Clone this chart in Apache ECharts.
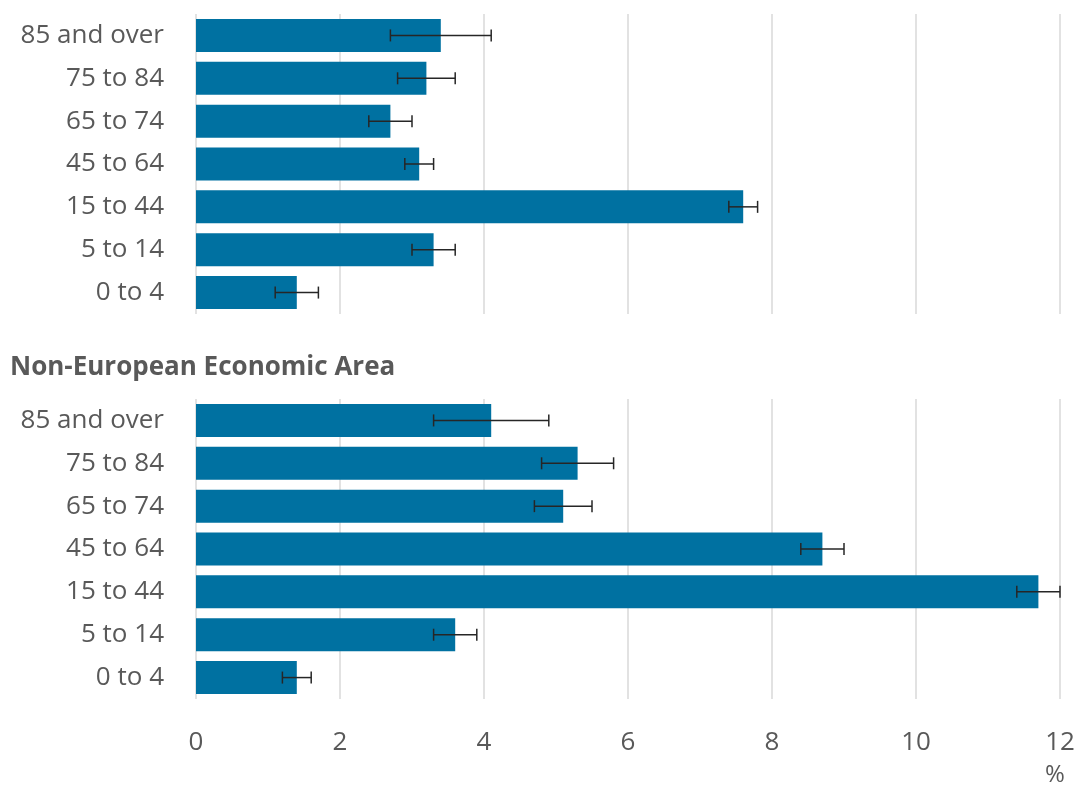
<!DOCTYPE html>
<html lang="en">
<head>
    <meta charset="UTF-8">
    <title>Age groups</title>
    <script src="https://cdn.jsdelivr.net/npm/echarts@6/dist/echarts.min.js"></script>
    <style>
        html, body { margin: 0; padding: 0; background: #fff; }
        #chart { width: 1078px; height: 789px; }
    </style>
</head>
<body>
    <div id="chart"></div>
    <script>
        // data
        var ageGroups = ['85 and over', '75 to 84', '65 to 74', '45 to 64', '15 to 44', '5 to 14', '0 to 4'];
        var xTicks = [0, 2, 4, 6, 8, 10, 12];

        var eeaValues = [3.4, 3.2, 2.7, 3.1, 7.6, 3.3, 1.4];
        var eeaLow = [2.7, 2.8, 2.4, 2.9, 7.4, 3.0, 1.1];
        var eeaHigh = [4.1, 3.6, 3.0, 3.3, 7.8, 3.6, 1.7];

        var nonEeaValues = [4.1, 5.3, 5.1, 8.7, 11.7, 3.6, 1.4];
        var nonEeaLow = [3.3, 4.8, 4.7, 8.4, 11.4, 3.3, 1.2];
        var nonEeaHigh = [4.9, 5.8, 5.5, 9.0, 12.0, 3.9, 1.6];

        var barColor = '#0071a1';
        var textColor = '#595959';
        var font = 'Open Sans';

        function errData(low, high) {
            var out = [];
            for (var i = 0; i < low.length; i++) {
                out.push([i, low[i], high[i]]);
            }
            return out;
        }

        function renderError(params, api) {
            var cat = api.value(0);
            var p1 = api.coord([api.value(1), cat]);
            var p2 = api.coord([api.value(2), cat]);
            var cap = 6;
            var style = { stroke: '#262626', lineWidth: 1.5 };
            return {
                type: 'group',
                children: [
                    { type: 'line', shape: { x1: p1[0], y1: p1[1], x2: p2[0], y2: p2[1] }, style: style },
                    { type: 'line', shape: { x1: p1[0], y1: p1[1] - cap, x2: p1[0], y2: p1[1] + cap }, style: style },
                    { type: 'line', shape: { x1: p2[0], y1: p2[1] - cap, x2: p2[0], y2: p2[1] + cap }, style: style }
                ]
            };
        }

        function makeX(idx, showLabels) {
            return {
                type: 'value',
                gridIndex: idx,
                min: xTicks[0],
                max: xTicks[xTicks.length - 1],
                interval: 2,
                axisLine: { show: false },
                axisTick: { show: false },
                splitLine: { lineStyle: { color: '#d9d9d9', width: 1.5 } },
                axisLabel: {
                    show: showLabels,
                    color: textColor,
                    fontFamily: font,
                    fontSize: 26,
                    margin: 31
                }
            };
        }

        function makeY(idx) {
            return {
                type: 'category',
                gridIndex: idx,
                data: ageGroups,
                inverse: true,
                axisLine: { show: false },
                axisTick: { show: false },
                axisLabel: {
                    color: textColor,
                    fontFamily: font,
                    fontSize: 26,
                    margin: 32
                }
            };
        }

        var myChart = echarts.init(document.getElementById('chart'));
        var option = {
            animation: false,
            title: [
                {
                    text: 'European Economic Area',
                    left: 5, top: -31,
                    textStyle: { color: textColor, fontFamily: font, fontSize: 26, fontWeight: 'bold' }
                },
                {
                    text: 'Non-European Economic Area',
                    left: 5, top: 350,
                    textStyle: { color: textColor, fontFamily: font, fontSize: 26, fontWeight: 'bold' }
                }
            ],
            grid: [
                { left: 196, right: 18, top: 14, height: 300 },
                { left: 196, right: 18, top: 399, height: 300 }
            ],
            xAxis: [makeX(0, false), makeX(1, true)],
            yAxis: [makeY(0), makeY(1)],
            graphic: [
                {
                    type: 'text',
                    left: 1045, top: 763,
                    style: { text: '%', fill: textColor, font: '24px "Open Sans"' }
                }
            ],
            series: [
                {
                    type: 'bar', xAxisIndex: 0, yAxisIndex: 0,
                    data: eeaValues, barCategoryGap: '23%',
                    itemStyle: { color: barColor }
                },
                {
                    type: 'custom', xAxisIndex: 0, yAxisIndex: 0,
                    data: errData(eeaLow, eeaHigh),
                    encode: { y: 0, x: [1, 2] },
                    renderItem: renderError, z: 5
                },
                {
                    type: 'bar', xAxisIndex: 1, yAxisIndex: 1,
                    data: nonEeaValues, barCategoryGap: '23%',
                    itemStyle: { color: barColor }
                },
                {
                    type: 'custom', xAxisIndex: 1, yAxisIndex: 1,
                    data: errData(nonEeaLow, nonEeaHigh),
                    encode: { y: 0, x: [1, 2] },
                    renderItem: renderError, z: 5
                }
            ]
        };
        myChart.setOption(option);
    </script>
</body>
</html>
